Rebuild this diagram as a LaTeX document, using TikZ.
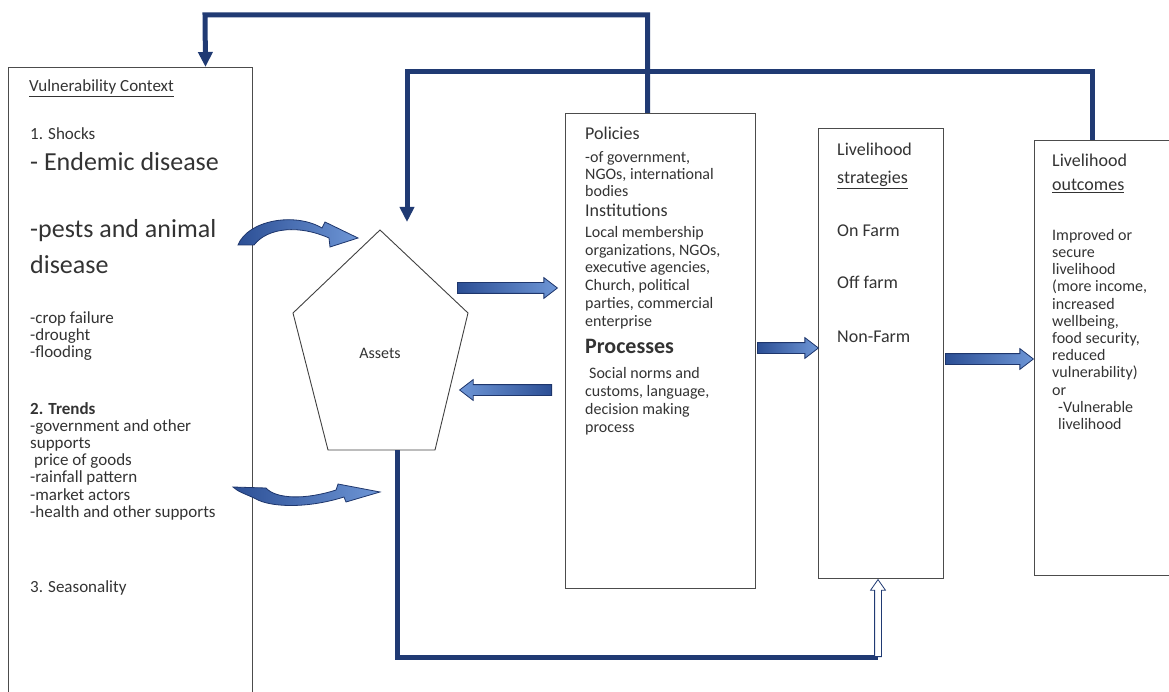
\documentclass[tikz,border=0pt]{standalone}
\usepackage{fontspec}
\setmainfont{Carlito}
\usepackage{tikz}
\usetikzlibrary{arrows.meta,shapes.arrows}
\usepackage{xcolor}

\definecolor{fbblue}{RGB}{32,58,115}
\definecolor{arrowline}{RGB}{30,54,108}
\definecolor{arrowdark}{RGB}{44,79,149}
\definecolor{arrowlight}{RGB}{110,150,214}

\newcommand\boxtxt{\fontsize{16}{17.2}\selectfont}
\newcommand\sidetxt{\fontsize{17}{17.2}\selectfont}
\newcommand\headtxt{\fontsize{18}{20}\selectfont}
\newcommand\bigtxt{\fontsize{26}{36}\selectfont}

\begin{document}
\begin{tikzpicture}[x=1pt,y=-1pt,>={Triangle[length=15pt,width=14pt]},line join=miter,
  panel/.style={draw=black!70,line width=1pt,inner sep=0pt,anchor=north west},
  txt/.style={text=black!80,inner sep=0pt,anchor=base west},
  para/.style={text=black!80,inner sep=0pt,anchor=north west,align=left},
  feedback/.style={draw=fbblue,line width=5pt},
  blockarrow/.style={single arrow,draw=arrowline,line width=0.8pt,inner sep=5pt,minimum width=0pt,
    single arrow head extend=5pt,single arrow tip angle=75,anchor=tail},
  hollowarrow/.style={single arrow,draw=fbblue,fill=white,line width=0.8pt,inner sep=3pt,minimum width=0pt,
    single arrow head extend=4pt,single arrow tip angle=70,anchor=tail,shape border rotate=90},
  curvedarrow/.style={draw=arrowline,line width=0.8pt,left color=arrowdark,right color=arrowlight}]
\useasboundingbox (0,0) rectangle (1169,692);
\clip (0,0) rectangle (1169,692);

% boxes
\node[panel,minimum width=244pt,minimum height=650pt] (vc) at (8,67) {};
\node[panel,minimum width=190pt,minimum height=475pt] (pol) at (565,113) {};
\node[panel,minimum width=125pt,minimum height=450pt] (strat) at (818,128) {};
\node[panel,minimum width=160pt,minimum height=435pt] (outc) at (1034,140) {};

% assets pentagon
\coordinate (ptop) at (380,230);
\coordinate (pright) at (468,313);
\coordinate (pbr) at (435,450);
\coordinate (pbl) at (328,450);
\coordinate (pleft) at (293,313);
\draw[black!75,line width=0.9pt] (ptop) -- (pright) -- (pbr) -- (pbl) -- (pleft) -- cycle;
\node[text=black!80,inner sep=0pt,font=\boxtxt] (assets) at (380,353) {Assets};

% vulnerability context
\node[txt,font={\fontsize{17}{20}\selectfont}] (vctitle) at (29,92) {\underline{Vulnerability Context}};
\node[txt,font=\sidetxt] (shocks) at (30,140) {1. Shocks};
\node[txt,font=\bigtxt] (endemic) at (30,171) {- Endemic disease};
\node[para,font=\bigtxt] (pests) at (30,219) {-pests and animal\\disease};
\node[para,font=\sidetxt] (crop) at (30,311) {-crop failure\\-drought\\-flooding};
\node[para,font=\sidetxt] (trends) at (30,402) {\textbf{2. Trends}\\-government and other\\supports\\\hspace*{4pt}price of goods\\-rainfall pattern\\-market actors\\-health and other supports};
\node[txt,font=\sidetxt] (season) at (30,592) {3. Seasonality};

% policies, institutions, processes
\node[txt,font=\headtxt] (poltitle) at (585,140) {Policies};
\node[para,font=\boxtxt] (poltext) at (585,151) {-of government,\\NGOs, international\\bodies};
\node[txt,font=\headtxt] (insttitle) at (585,217) {Institutions};
\node[para,font={\fontsize{16}{17.8}\selectfont}] (insttext) at (585,226) {Local membership\\organizations, NGOs,\\executive agencies,\\Church, political\\parties, commercial\\enterprise};
\node[txt,font={\fontsize{22}{24}\selectfont\bfseries}] (proctitle) at (585,353) {Processes};
\node[para,font={\fontsize{16}{18}\selectfont}] (proctext) at (585,367) {\hspace*{4pt}Social norms and\\customs, language,\\decision making\\process};

% livelihood strategies
\node[txt,font=\headtxt] (strattitle) at (837,156) {Livelihood};
\node[txt,font=\headtxt] (stratsub) at (837,184) {\underline{strategies}};
\node[txt,font=\headtxt] (onfarm) at (837,237) {On Farm};
\node[txt,font=\headtxt] (offfarm) at (837,289) {Off farm};
\node[txt,font=\headtxt] (nonfarm) at (837,342) {Non-Farm};

% livelihood outcomes
\node[txt,font=\headtxt] (outctitle) at (1052,167) {Livelihood};
\node[txt,font=\headtxt] (outcsub) at (1052,191) {\underline{outcomes}};
\node[para,font=\boxtxt] (outctext) at (1052,229) {Improved or\\secure\\livelihood\\(more income,\\increased\\wellbeing,\\food security,\\reduced\\vulnerability)\\or\\\hspace*{6pt}-Vulnerable\\\hspace*{6pt}livelihood};

% feedback lines
\draw[feedback,->] ([xshift=-13pt]pol.north) |- (205,15) -- ([xshift=75pt]vc.north);
\coordinate (fbtip) at (407,222);
\draw[feedback,->] ([xshift=-22pt]outc.north) |- (407,72) -- (fbtip);
\coordinate (pbot) at (397,450);
\coordinate (turn) at (878,657);
\draw[feedback] (pbot) |- (turn);
\node[hollowarrow,minimum height=77pt] (uparrow) at (turn) {};

% block arrows
\node[blockarrow,minimum height=100pt,left color=arrowdark,right color=arrowlight] (toPol) at (457,288) {};
\node[blockarrow,minimum height=92pt,shape border rotate=180,left color=arrowlight,right color=arrowdark] (toAssets) at (552,390) {};
\node[blockarrow,minimum height=61pt,left color=arrowdark,right color=arrowlight] (toStrat) at (757,348) {};
\node[blockarrow,minimum height=88pt,left color=arrowdark,right color=arrowlight] (toOutc) at (945,359) {};

% curved arrows from the vulnerability context
\draw[curvedarrow] (238,245) .. controls (248,220) and (295,212) .. (322,228) -- (325,222) -- (358,238) -- (330,247) -- (329,238) .. controls (300,225) and (268,227) .. (254,245) -- cycle;
\draw[curvedarrow] (233,487) -- (266,488) .. controls (276,499) and (305,500) .. (336,490) -- (338,484) -- (380,492) -- (346,502) -- (344,497) .. controls (306,509) and (270,507) .. (256,499) .. controls (246,494) and (238,492) .. (233,487) -- cycle;
\end{tikzpicture}
\end{document}
